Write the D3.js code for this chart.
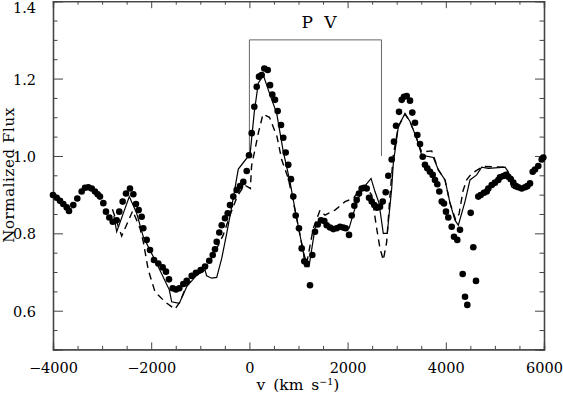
<!DOCTYPE html>
<html><head><meta charset="utf-8">
<script src="https://cdn.jsdelivr.net/npm/d3@7/dist/d3.min.js"></script>
<style>html,body{margin:0;padding:0;background:#fff;}svg{display:block;}</style>
</head><body>
<svg id="chart" width="563" height="395"></svg>
<script>
// ---- data ----
const xTicks = [-4000, -2000, 0, 2000, 4000, 6000];
const yTicks = [0.6, 0.8, 1.0, 1.2, 1.4];
const bracketLabel = "P V";
const bracketRange = [0, 2690];
const bracketTop = 1.3;
const bracketBottom = 1.0;

const obsV = [-4000,-3925,-3857,-3790,-3720,-3674,-3587,-3505,-3416,-3348,-3281,-3212,-3145,-3090,-3043,-2975,-2921,-2853,-2784,-2703,-2650,-2581,-2513,-2432,-2364,-2310,-2255,-2194,-2161,-2092,-2024,-1943,-1855,-1766,-1699,-1638,-1562,-1495,-1428,-1346,-1277,-1175,-1088,-992,-904,-817,-747,-701,-666,-613,-564,-497,-442,-395,-328,-259,-191,-124,-55,-8,47,100,149,196,250,304,373,420,466,521,576,644,690,739,792,847,894,943,1010,1065,1118,1167,1234,1281,1336,1391,1458,1526,1574,1642,1709,1778,1845,1912,1961,2029,2084,2137,2185,2232,2287,2340,2389,2436,2491,2544,2599,2660,2715,2776,2829,2898,2945,2986,3047,3102,3149,3204,3271,3318,3373,3420,3475,3530,3576,3623,3678,3733,3780,3827,3868,3917,3963,4004,4051,4120,4167,4234,4289,4344,4391,4438,4507,4560,4615,4662,4711,4778,4833,4866,4935,5002,5069,5104,5171,5226,5273,5322,5375,5430,5477,5546,5613,5660,5715,5770,5817,5884,5953,5986];
const obsF = [0.899,0.892,0.884,0.876,0.867,0.858,0.873,0.890,0.908,0.918,0.919,0.916,0.908,0.901,0.895,0.878,0.856,0.841,0.830,0.834,0.856,0.882,0.903,0.916,0.901,0.876,0.860,0.843,0.813,0.783,0.757,0.731,0.722,0.712,0.701,0.681,0.658,0.655,0.658,0.669,0.677,0.690,0.698,0.705,0.714,0.729,0.744,0.759,0.778,0.802,0.821,0.839,0.852,0.873,0.895,0.912,0.922,0.933,0.961,1.002,1.059,1.127,1.179,1.205,1.209,1.226,1.222,1.183,1.159,1.145,1.116,1.080,1.047,1.009,0.977,0.940,0.895,0.846,0.813,0.761,0.728,0.722,0.666,0.744,0.804,0.823,0.834,0.832,0.821,0.815,0.811,0.813,0.817,0.815,0.813,0.796,0.846,0.871,0.886,0.903,0.916,0.918,0.916,0.892,0.882,0.873,0.866,0.869,0.882,0.906,0.949,0.991,1.037,1.078,1.114,1.145,1.153,1.155,1.143,1.112,1.086,1.054,1.031,0.998,0.977,0.968,0.959,0.951,0.938,0.927,0.908,0.882,0.877,0.856,0.841,0.817,0.791,0.783,0.809,0.695,0.636,0.615,0.853,0.764,0.677,0.895,0.899,0.905,0.908,0.916,0.925,0.931,0.938,0.945,0.948,0.951,0.946,0.940,0.931,0.922,0.919,0.916,0.919,0.922,0.929,0.959,0.965,0.974,0.991,0.996];

const solidV = [-2760,-2703,-2446,-2296,-2161,-1888,-1631,-1583,-1428,-1277,-1073,-904,-870,-768,-666,-564,-462,-360,-226,-55,12,100,181,283,420,556,690,827,963,1098,1132,1214,1336,1438,1574,1743,1912,2029,2151,2287,2477,2558,2640,2727,2808,2898,2931,3033,3169,3271,3407,3509,3576,3747,3849,3984,4086,4187,4255,4391,4493,4629,4731,4866,5206,5273,5342,5389,5578,5715];
const solidF = [0.845,0.804,0.895,0.852,0.791,0.722,0.654,0.623,0.619,0.662,0.692,0.705,0.690,0.684,0.686,0.735,0.800,0.869,0.966,0.994,1.002,1.114,1.188,1.209,1.158,1.110,1.011,0.933,0.839,0.752,0.714,0.714,0.813,0.834,0.820,0.809,0.817,0.813,0.865,0.912,0.942,0.908,0.878,0.800,0.800,0.916,0.981,1.076,1.110,1.089,1.045,1.002,1.000,0.996,0.964,0.938,0.878,0.834,0.821,0.882,0.938,0.951,0.971,0.968,0.971,0.959,0.933,0.916,0.913,0.929];

const dashV = [-2790,-2601,-2377,-2228,-2161,-2059,-1923,-1719,-1515,-1413,-1277,-1041,-870,-680,-532,-400,-250,-100,20,45,120,181,277,409,562,658,792,963,1098,1167,1301,1438,1540,1743,1947,2116,2287,2389,2491,2592,2660,2727,2796,2864,2931,3033,3169,3271,3407,3509,3713,3849,3984,4086,4200,4270,4351,4425,4527,4764,5171,5273,5342,5450,5600,5700];
const dashF = [0.862,0.793,0.858,0.813,0.778,0.705,0.649,0.623,0.604,0.623,0.666,0.697,0.714,0.757,0.796,0.845,0.895,0.925,0.916,0.975,1.020,1.059,1.108,1.100,1.050,0.990,0.942,0.839,0.752,0.722,0.813,0.860,0.847,0.860,0.882,0.890,0.920,0.916,0.899,0.813,0.761,0.731,0.778,0.899,1.002,1.076,1.108,1.089,1.045,1.010,1.013,0.964,0.938,0.878,0.835,0.850,0.910,0.938,0.955,0.973,0.971,0.955,0.920,0.912,0.913,0.925];

// ---- chart ----
const svg = d3.select("#chart");
const L = 53, R = 544, T = 1.2, B = 349.4;
const x = d3.scaleLinear().domain([-4000, 6000]).range([L, R]);
const y = d3.scaleLinear().domain([0.5, 1.4]).range([B, T]);
const axisColor = "#444";
const font = "DejaVu Serif";

const xMinor = d3.range(-4000, 6001, 500).filter(v => !xTicks.includes(v));
const yMinor = d3.range(0.5, 1.4001, 0.05).map(v => +v.toFixed(2)).filter(v => !yTicks.some(t => Math.abs(t - v) < 1e-6));

function styleAxis(g) {
  g.selectAll("path.domain").attr("stroke", axisColor).attr("stroke-width", 1.3);
  g.selectAll(".tick line").attr("stroke", axisColor).attr("stroke-width", 1);
  g.selectAll("text").attr("font-family", font).attr("font-size", 14.5).attr("fill", "#000");
}

// bottom
svg.append("g").attr("transform", `translate(0,${B})`)
  .call(d3.axisBottom(x).tickValues(xTicks).tickSize(-7).tickPadding(13).tickFormat(d3.format("d")))
  .call(styleAxis);
svg.append("g").attr("transform", `translate(0,${B})`)
  .call(d3.axisBottom(x).tickValues(xMinor).tickSize(-3.5).tickFormat(""))
  .call(styleAxis);
// top
svg.append("g").attr("transform", `translate(0,${T})`)
  .call(d3.axisTop(x).tickValues(xTicks).tickSize(-7).tickFormat(""))
  .call(styleAxis);
svg.append("g").attr("transform", `translate(0,${T})`)
  .call(d3.axisTop(x).tickValues(xMinor).tickSize(-3.5).tickFormat(""))
  .call(styleAxis);
// left
const gl = svg.append("g").attr("transform", `translate(${L},0)`)
  .call(d3.axisLeft(y).tickValues(yTicks).tickSize(-10).tickPadding(17).tickFormat(d3.format(".1f")))
  .call(styleAxis);
gl.selectAll(".tick text").attr("dy", null).attr("dominant-baseline", "middle")
  .attr("y", d => Math.max(y(d) + 1.5, 8) - y(d));
svg.append("g").attr("transform", `translate(${L},0)`)
  .call(d3.axisLeft(y).tickValues(yMinor).tickSize(-4.5).tickFormat(""))
  .call(styleAxis);
// right
svg.append("g").attr("transform", `translate(${R},0)`)
  .call(d3.axisRight(y).tickValues(yTicks).tickSize(-9).tickFormat(""))
  .call(styleAxis);
svg.append("g").attr("transform", `translate(${R},0)`)
  .call(d3.axisRight(y).tickValues(yMinor).tickSize(-4.5).tickFormat(""))
  .call(styleAxis);

// axis titles
svg.append("text").attr("x", 298).attr("y", 390).attr("text-anchor", "middle")
  .attr("font-family", font).attr("font-size", 15.5).attr("word-spacing", 3)
  .html('v (km s<tspan dy="-5" font-size="9.5">−1</tspan><tspan dy="5">)</tspan>');
svg.append("text").attr("transform", "translate(14,175) rotate(-90)").attr("text-anchor", "middle")
  .attr("font-family", font).attr("font-size", 15).attr("letter-spacing", 0.6).text("Normalized Flux");

// bracket
svg.append("path")
  .attr("d", d3.line()([[x(bracketRange[0]), y(bracketBottom)], [x(bracketRange[0]), y(bracketTop)], [x(bracketRange[1]), y(bracketTop)], [x(bracketRange[1]), y(bracketBottom)]]))
  .attr("fill", "none").attr("stroke", "#666").attr("stroke-width", 1);
svg.append("text").attr("x", (x(bracketRange[0]) + x(bracketRange[1])) / 2 + 5).attr("y", 28)
  .attr("text-anchor", "middle").attr("font-family", font).attr("font-size", 17)
  .attr("letter-spacing", 3).text(bracketLabel);

// lines
const line = d3.line().x(d => x(d[0])).y(d => y(d[1]));
svg.append("path").datum(solidV.map((v, i) => [v, solidF[i]]))
  .attr("d", line).attr("fill", "none").attr("stroke", "#000").attr("stroke-width", 1.2);
svg.append("path").datum(dashV.map((v, i) => [v, dashF[i]]))
  .attr("d", line).attr("fill", "none").attr("stroke", "#000").attr("stroke-width", 1.4)
  .attr("stroke-dasharray", "7,5");

// dots
svg.append("g").selectAll("circle").data(obsV.map((v, i) => [v, obsF[i]])).join("circle")
  .attr("cx", d => x(d[0])).attr("cy", d => y(d[1])).attr("r", 3.3).attr("fill", "#000");
</script>
</body></html>
